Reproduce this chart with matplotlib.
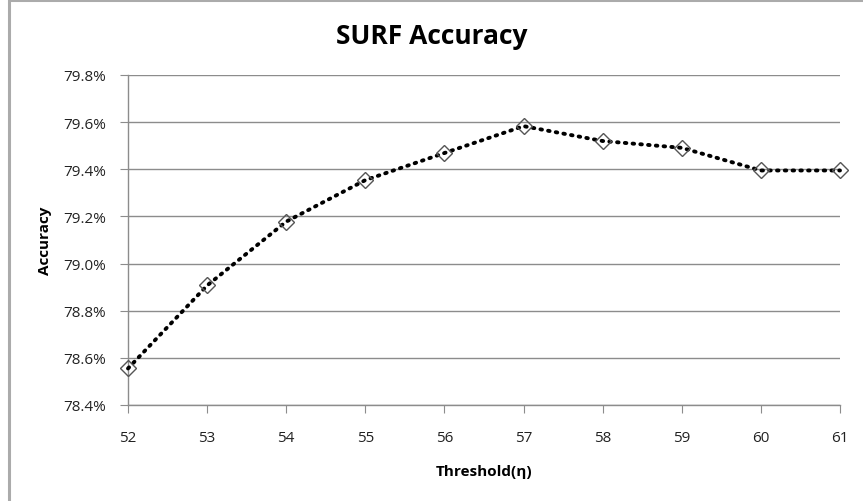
import numpy as np
import matplotlib
matplotlib.use("Agg")
import matplotlib.pyplot as plt
from matplotlib.ticker import FuncFormatter
from matplotlib.patches import Rectangle

# ================================================================
# DONNÉES
# ================================================================
thresholds = [52, 53, 54, 55, 56, 57, 58, 59, 60, 61]
accuracy = [78.555, 78.907, 79.178, 79.354, 79.469, 79.583, 79.520, 79.491, 79.395, 79.395]

y_ticks = [78.4, 78.6, 78.8, 79.0, 79.2, 79.4, 79.6, 79.8]

plt.rcParams['font.family'] = ['Liberation Sans Narrow', 'Open Sans', 'DejaVu Sans']

# ================================================================
# FIGURE
# ================================================================
fig = plt.figure(figsize=(8.63, 5.02), dpi=100)
ax = fig.add_axes([128/863, 1 - 406/502, (840 - 128)/863, (406 - 76)/502])

ax.plot(thresholds, accuracy, color='black', lw=2.8,
        linestyle=(0, (0.4, 1.6)), dash_capstyle='round', zorder=3, clip_on=False)
ax.plot(thresholds, accuracy, linestyle='none', marker='D', markersize=8.5,
        markerfacecolor='none', markeredgecolor='#555555', markeredgewidth=1.0,
        zorder=4, clip_on=False)

ax.set_xlim(52, 61)
ax.set_ylim(78.4, 79.8)
ax.set_xticks(thresholds)
ax.set_yticks(y_ticks)
ax.yaxis.set_major_formatter(FuncFormatter(lambda v, p: f"{v:.1f}%"))

ax.grid(axis='y', color='#8c8c8c', lw=1.0)
ax.set_axisbelow(True)
for s in ['top', 'right']:
    ax.spines[s].set_visible(False)
for s in ['left', 'bottom']:
    ax.spines[s].set_color('#8c8c8c')
    ax.spines[s].set_linewidth(1.0)

ax.tick_params(axis='both', direction='out', length=6, color='#8c8c8c',
               labelsize=11, labelcolor='#222222')
ax.tick_params(axis='x', pad=12)
ax.tick_params(axis='y', pad=10)

ax.set_xlabel("Threshold(η)", fontsize=11, fontweight='bold', labelpad=14)
ax.set_ylabel("Accuracy", fontsize=11, fontweight='bold', labelpad=8)
fig.text(0.5, 1 - 36/502, "SURF Accuracy", ha='center', va='center',
         fontsize=19, fontweight='bold')

# cadre gris du graphique
fig.patches.append(Rectangle((9/863, -0.05), 1.2, 1.05 - 1/502, transform=fig.transFigure,
                             fill=False, edgecolor='#ababab', lw=2.2))

plt.savefig("out.png", dpi=100)
